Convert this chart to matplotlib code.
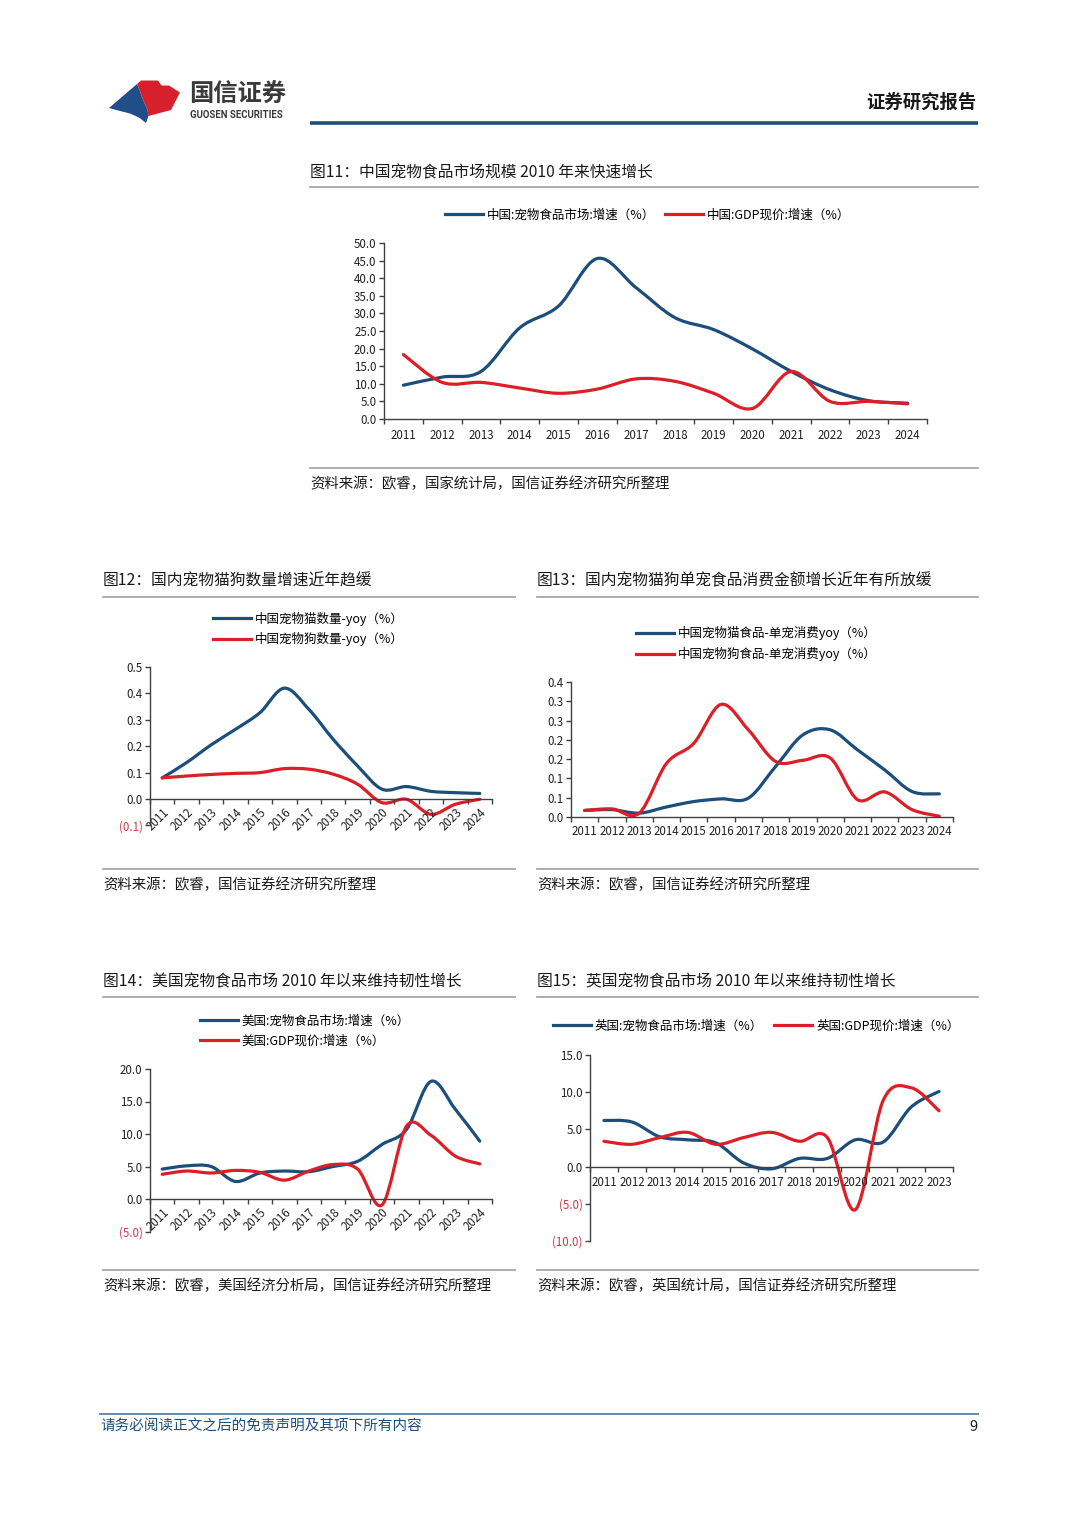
import numpy as np
import matplotlib
matplotlib.use("Agg")
import matplotlib.pyplot as plt
from matplotlib.path import Path
from matplotlib.patches import PathPatch, Polygon
from matplotlib.lines import Line2D

plt.rcParams["font.family"] = ["Noto Sans CJK SC", "DejaVu Sans"]

W, H = 1080, 1527
BLUE = "#1c4e7c"
RED = "#dc1f26"
NEG = "#d03a4a"
AXC = "#404040"
GRAY = "#a6a6a6"

# ---- data ----
years_14 = [str(y) for y in range(2011, 2025)]
years_13 = [str(y) for y in range(2011, 2024)]

cn_petfood = [9.6, 11.9, 13.5, 25.9, 32.1, 45.6, 37.3, 28.8, 25.4, 19.9, 13.5, 8.3, 5.2, 4.5]
cn_gdp = [18.3, 10.4, 10.4, 8.8, 7.3, 8.5, 11.4, 10.7, 7.3, 3.0, 13.5, 5.0, 5.0, 4.3]

cn_cat_num = [0.080, 0.138, 0.205, 0.264, 0.327, 0.420, 0.340, 0.226, 0.125, 0.037, 0.047, 0.029, 0.024, 0.021]
cn_dog_num = [0.080, 0.087, 0.093, 0.097, 0.100, 0.115, 0.113, 0.094, 0.056, -0.014, -0.001, -0.058, -0.020, -0.001]

cn_cat_food = [0.017, 0.019, 0.010, 0.026, 0.040, 0.047, 0.049, 0.131, 0.213, 0.226, 0.174, 0.122, 0.066, 0.060]
cn_dog_food = [0.017, 0.021, 0.010, 0.139, 0.191, 0.292, 0.226, 0.144, 0.147, 0.153, 0.045, 0.065, 0.019, 0.002]

us_petfood = [4.6, 5.1, 5.0, 2.7, 4.0, 4.3, 4.2, 5.0, 5.8, 8.4, 10.7, 18.1, 13.8, 8.9]
us_gdp = [3.8, 4.3, 4.0, 4.4, 4.1, 2.9, 4.3, 5.3, 4.6, -0.9, 11.2, 9.8, 6.6, 5.4]

uk_petfood = [6.2, 6.0, 4.0, 3.6, 3.2, 0.5, -0.3, 1.1, 1.1, 3.6, 3.3, 8.0, 10.1]
uk_gdp = [3.4, 3.0, 3.9, 4.6, 3.0, 3.9, 4.6, 3.4, 3.9, -5.8, 8.9, 10.6, 7.5]

ticks_11 = [0, 5, 10, 15, 20, 25, 30, 35, 40, 45, 50]
ticks_12 = [-0.1, 0.0, 0.1, 0.2, 0.3, 0.4, 0.5]
ticks_13 = [0.0, 0.05, 0.10, 0.15, 0.20, 0.25, 0.30, 0.35]
labels_13 = ["0.0", "0.1", "0.1", "0.2", "0.2", "0.3", "0.3", "0.4"]
ticks_14 = [-5, 0, 5, 10, 15, 20]
ticks_15 = [-10, -5, 0, 5, 10, 15]

fig = plt.figure(figsize=(W / 100, H / 100), dpi=100)

# page layer in pixel coordinates
page = fig.add_axes([0, 0, 1, 1])
page.set_xlim(0, W)
page.set_ylim(H, 0)
page.axis("off")


def rect(x0, y0, x1, y1):
    return [x0 / W, 1 - y1 / H, (x1 - x0) / W, (y1 - y0) / H]


def smooth_path(ys):
    """Excel-style smoothed line: cubic Bezier through the points."""
    pts = np.column_stack([np.arange(len(ys), dtype=float), np.asarray(ys, float)])
    verts, codes = [pts[0]], [Path.MOVETO]
    n = len(pts)
    for i in range(n - 1):
        p0 = pts[max(i - 1, 0)]
        p1, p2 = pts[i], pts[i + 1]
        p3 = pts[min(i + 2, n - 1)]
        verts += [p1 + (p2 - p0) / 6, p2 - (p3 - p1) / 6, p2]
        codes += [Path.CURVE4] * 3
    return Path(verts, codes)


def chart(box, cats, series, ylim, yticks, ylabels, rot=False, xpad=7):
    ax = fig.add_axes(rect(*box))
    n = len(cats)
    for ys, c in series:
        ax.add_patch(PathPatch(smooth_path(ys), fill=False, edgecolor=c, lw=2.3,
                               capstyle="round", joinstyle="round"))
    ax.set_xlim(-0.5, n - 0.5)
    ax.set_ylim(*ylim)
    ax.patch.set_alpha(0)
    for s in ("top", "right"):
        ax.spines[s].set_visible(False)
    ax.spines["bottom"].set_position(("data", 0))
    for s in ("left", "bottom"):
        ax.spines[s].set_color(AXC)
        ax.spines[s].set_linewidth(1.0)
    ax.set_xticks(np.arange(-0.5, n, 1.0))
    ax.set_xticklabels([])
    ax.set_xticks(np.arange(n), minor=True)
    if rot:
        ax.set_xticklabels(cats, minor=True, rotation=45, ha="right", va="top",
                           rotation_mode="anchor")
    else:
        ax.set_xticklabels(cats, minor=True)
    ax.tick_params(axis="x", which="major", direction="out", length=3.8, width=1, color=AXC)
    ax.tick_params(axis="x", which="minor", length=0, pad=xpad, labelsize=8.3, labelcolor="#222")
    ax.set_yticks(yticks)
    ax.set_yticklabels(ylabels)
    ax.tick_params(axis="y", direction="out", length=3.8, width=1, color=AXC,
                   pad=1.5, labelsize=8.3, labelcolor="#222")
    for v, t in zip(yticks, ax.get_yticklabels()):
        if v < 0:
            t.set_color(NEG)
    return ax


def fmt1(vals):
    return [f"({abs(v):.1f})" if v < 0 else f"{v:.1f}" for v in vals]


def legend(labels, colors, x, y, ncol=1, colsp=0.9):
    hs = [Line2D([], [], color=c, lw=2.3) for c in colors]
    fig.legend(hs, labels, loc="center left", bbox_to_anchor=(x / W, 1 - y / H),
               bbox_transform=fig.transFigure, frameon=False,
               handlelength=3.0, handletextpad=0.35, borderpad=0, borderaxespad=0,
               ncol=ncol, columnspacing=colsp, labelspacing=0.55,
               prop={"size": 9.0})


def block(x0, x1, title, ytitle, yline1, yline2, source):
    page.text(x0, ytitle, title, fontsize=11.35, va="center", ha="left", color="#1a1a1a")
    page.plot([x0, x1], [yline1, yline1], color=GRAY, lw=1.3)
    page.plot([x0, x1], [yline2, yline2], color=GRAY, lw=1.3)
    page.text(x0, yline2 + 16, source, fontsize=10.4, va="center", ha="left", color="#1a1a1a")


# ---- header ----
page.add_patch(Polygon([(109, 108), (137, 84), (139.5, 90), (142, 97), (145, 104),
                        (147.5, 110), (148.5, 116), (146, 123), (139, 117.5),
                        (130, 113.5), (120, 111)],
                       closed=True, color="#1f4f86", lw=0))
page.add_patch(Polygon([(137, 84), (141, 80.5), (158, 80.5), (161.5, 85.5), (169, 85.5),
                        (180, 92.5), (171, 110), (148.5, 116), (147.5, 110), (145, 104),
                        (142, 97), (139.5, 90)],
                       closed=True, color="#d7202b", lw=0))
page.text(189, 95, "国信证券", fontsize=17.5, fontweight="bold", color="#3a3a3a",
          va="center", ha="left")
page.text(190, 115, "GUOSEN SECURITIES", fontsize=6.9, fontweight="bold", color="#3a3a3a",
          va="center", ha="left", family="Roboto")
page.text(977, 102, "证券研究报告", fontsize=13.2, fontweight="bold", color="#1a1a1a",
          va="center", ha="right")
page.plot([310, 978], [122.5, 122.5], color="#1f4e79", lw=2.6, solid_capstyle="butt")

# ---- footer ----
page.plot([100, 978], [1413.5, 1413.5], color="#5b7fa3", lw=1.3)
page.text(100, 1426, "请务必阅读正文之后的免责声明及其项下所有内容", fontsize=10.5,
          color="#1f4e79", va="center", ha="left", style="italic")
page.text(977, 1427, "9", fontsize=10.5, color="#1a1a1a", va="center", ha="right")

# ---- figure 11 ----
block(310, 978, "图11：中国宠物食品市场规模 2010 年来快速增长", 173, 187, 468,
      "资料来源：欧睿，国家统计局，国信证券经济研究所整理")
chart((384, 243, 927, 419), years_14, [(cn_petfood, BLUE), (cn_gdp, RED)],
      (0, 50), ticks_11, fmt1(ticks_11))
legend(["中国:宠物食品市场:增速（%）", "中国:GDP现价:增速（%）"], [BLUE, RED],
       445, 215, ncol=2, colsp=0.8)

# ---- figure 12 ----
block(103, 515, "图12：国内宠物猫狗数量增速近年趋缓", 581, 597, 869,
      "资料来源：欧睿，国信证券经济研究所整理")
chart((150, 667, 492, 825.4), years_14, [(cn_cat_num, BLUE), (cn_dog_num, RED)],
      (-0.1, 0.5), ticks_12, fmt1(ticks_12), rot=True, xpad=5)
legend(["中国宠物猫数量-yoy（%）", "中国宠物狗数量-yoy（%）"], [BLUE, RED], 213, 629)

# ---- figure 13 ----
block(537, 978, "图13：国内宠物猫狗单宠食品消费金额增长近年有所放缓", 581, 597, 869,
      "资料来源：欧睿，国信证券经济研究所整理")
chart((571, 682, 953, 817), years_14, [(cn_cat_food, BLUE), (cn_dog_food, RED)],
      (0, 0.35), ticks_13, labels_13, xpad=6)
legend(["中国宠物猫食品-单宠消费yoy（%）", "中国宠物狗食品-单宠消费yoy（%）"], [BLUE, RED],
       636, 643.5)

# ---- figure 14 ----
block(103, 515, "图14：美国宠物食品市场 2010 年以来维持韧性增长", 982, 997, 1270,
      "资料来源：欧睿，美国经济分析局，国信证券经济研究所整理")
chart((150, 1069, 492, 1231.5), years_14, [(us_petfood, BLUE), (us_gdp, RED)],
      (-5, 20), ticks_14, fmt1(ticks_14), rot=True, xpad=5)
legend(["美国:宠物食品市场:增速（%）", "美国:GDP现价:增速（%）"], [BLUE, RED], 200, 1031)

# ---- figure 15 ----
block(537, 978, "图15：英国宠物食品市场 2010 年以来维持韧性增长", 982, 997, 1270,
      "资料来源：欧睿，英国统计局，国信证券经济研究所整理")
chart((590, 1055, 953, 1241), years_13, [(uk_petfood, BLUE), (uk_gdp, RED)],
      (-10, 15), ticks_15, fmt1(ticks_15), xpad=7)
legend(["英国:宠物食品市场:增速（%）", "英国:GDP现价:增速（%）"], [BLUE, RED],
       553, 1026, ncol=2, colsp=0.9)

fig.savefig("out.png", dpi=100)
